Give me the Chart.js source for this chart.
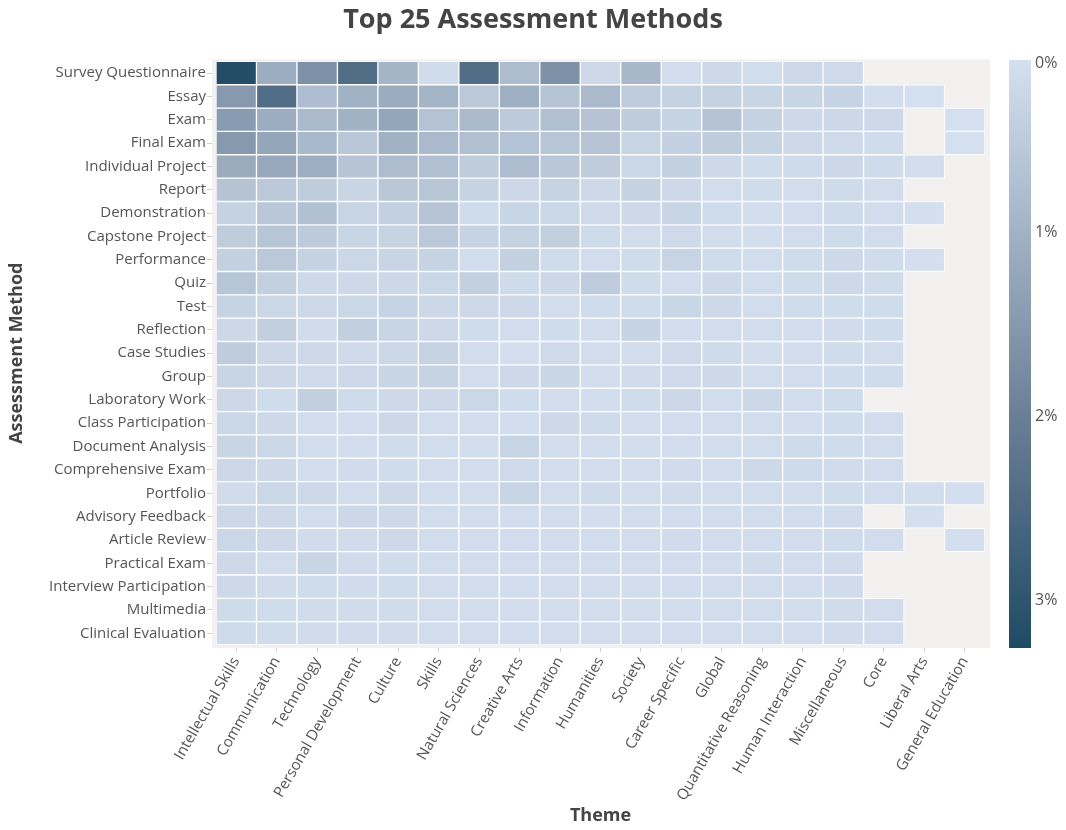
<!DOCTYPE html>
<html>
<head>
<meta charset="utf-8">
<title>Top 25 Assessment Methods</title>
<script src="https://cdn.jsdelivr.net/npm/chart.js@4"></script>
<style>
  html, body { margin: 0; padding: 0; background: #fff; }
</style>
</head>
<body>
<canvas id="chart" width="1066" height="830"></canvas>
<script>
// themes along the x axis
const themes = [
  "Intellectual Skills", "Communication", "Technology", "Personal Development",
  "Culture", "Skills", "Natural Sciences", "Creative Arts", "Information",
  "Humanities", "Society", "Career Specific", "Global", "Quantitative Reasoning",
  "Human Interaction", "Miscellaneous", "Core", "Liberal Arts", "General Education"
];

// assessment methods, top to bottom
const methods = [
  "Survey Questionnaire", "Essay", "Exam", "Final Exam", "Individual Project",
  "Report", "Demonstration", "Capstone Project", "Performance", "Quiz", "Test",
  "Reflection", "Case Studies", "Group", "Laboratory Work", "Class Participation",
  "Document Analysis", "Comprehensive Exam", "Portfolio", "Advisory Feedback",
  "Article Review", "Practical Exam", "Interview Participation", "Multimedia",
  "Clinical Evaluation"
];

// share of all assessments (%), one row per method, null = no data
const shares = [
  [3.2, 1.1, 1.65, 2.4, 0.95, 0.15, 2.4, 0.8, 1.65, 0.2, 0.9, 0.12, 0.2, 0.13, 0.2, 0.18, null, null, null],
  [1.5, 2.4, 0.8, 1.0, 1.15, 0.95, 0.55, 1.05, 0.62, 0.85, 0.5, 0.35, 0.35, 0.28, 0.28, 0.32, 0.1, 0.06, null],
  [1.45, 1.1, 0.85, 1.0, 1.25, 0.68, 0.85, 0.52, 0.75, 0.65, 0.48, 0.33, 0.65, 0.35, 0.2, 0.22, 0.2, null, 0.06],
  [1.5, 1.25, 0.88, 0.58, 1.0, 0.85, 0.75, 0.68, 0.6, 0.63, 0.3, 0.38, 0.48, 0.33, 0.2, 0.18, 0.15, null, 0.06],
  [1.15, 1.2, 1.08, 0.63, 0.8, 0.75, 0.48, 0.8, 0.58, 0.48, 0.24, 0.4, 0.2, 0.15, 0.17, 0.22, 0.17, 0.1, null],
  [0.65, 0.55, 0.48, 0.28, 0.58, 0.6, 0.33, 0.22, 0.33, 0.2, 0.35, 0.2, 0.12, 0.15, 0.12, 0.17, 0.12, null, null],
  [0.35, 0.58, 0.72, 0.3, 0.38, 0.63, 0.15, 0.28, 0.24, 0.18, 0.2, 0.28, 0.15, 0.1, 0.12, 0.17, 0.12, 0.08, null],
  [0.48, 0.6, 0.52, 0.28, 0.33, 0.55, 0.32, 0.35, 0.42, 0.17, 0.12, 0.18, 0.12, 0.1, 0.12, 0.17, 0.12, null, null],
  [0.4, 0.55, 0.35, 0.24, 0.28, 0.33, 0.13, 0.4, 0.15, 0.12, 0.15, 0.3, 0.15, 0.12, 0.15, 0.2, 0.15, 0.08, null],
  [0.6, 0.4, 0.2, 0.2, 0.22, 0.24, 0.4, 0.17, 0.22, 0.47, 0.15, 0.12, 0.2, 0.12, 0.15, 0.2, 0.15, null, null],
  [0.33, 0.24, 0.2, 0.24, 0.32, 0.22, 0.2, 0.2, 0.12, 0.15, 0.15, 0.26, 0.2, 0.12, 0.15, 0.15, 0.15, null, null],
  [0.22, 0.42, 0.14, 0.42, 0.28, 0.2, 0.15, 0.12, 0.15, 0.12, 0.32, 0.12, 0.12, 0.12, 0.12, 0.14, 0.15, null, null],
  [0.47, 0.22, 0.2, 0.18, 0.24, 0.33, 0.12, 0.08, 0.18, 0.12, 0.12, 0.18, 0.17, 0.1, 0.12, 0.15, 0.12, null, null],
  [0.28, 0.22, 0.18, 0.2, 0.28, 0.33, 0.12, 0.2, 0.26, 0.1, 0.14, 0.18, 0.2, 0.12, 0.12, 0.15, 0.15, null, null],
  [0.22, 0.15, 0.42, 0.17, 0.2, 0.2, 0.24, 0.15, 0.12, 0.1, 0.15, 0.22, 0.12, 0.22, 0.12, 0.15, null, null, null],
  [0.24, 0.2, 0.12, 0.12, 0.22, 0.12, 0.12, 0.12, 0.2, 0.17, 0.12, 0.12, 0.12, 0.12, 0.12, 0.15, 0.12, null, null],
  [0.28, 0.24, 0.12, 0.12, 0.15, 0.12, 0.1, 0.3, 0.12, 0.12, 0.12, 0.12, 0.12, 0.12, 0.17, 0.15, 0.12, null, null],
  [0.22, 0.2, 0.12, 0.14, 0.15, 0.12, 0.12, 0.18, 0.12, 0.12, 0.12, 0.14, 0.12, 0.2, 0.17, 0.14, 0.12, null, null],
  [0.14, 0.24, 0.2, 0.12, 0.2, 0.12, 0.12, 0.3, 0.12, 0.17, 0.12, 0.14, 0.12, 0.12, 0.12, 0.15, 0.12, 0.1, 0.08],
  [0.22, 0.2, 0.12, 0.22, 0.2, 0.12, 0.12, 0.12, 0.12, 0.1, 0.12, 0.12, 0.12, 0.12, 0.12, 0.14, null, 0.08, null],
  [0.24, 0.2, 0.14, 0.14, 0.2, 0.12, 0.12, 0.12, 0.12, 0.12, 0.12, 0.14, 0.12, 0.12, 0.12, 0.15, 0.12, null, 0.08],
  [0.2, 0.12, 0.28, 0.14, 0.15, 0.12, 0.12, 0.12, 0.12, 0.12, 0.12, 0.12, 0.12, 0.14, 0.12, 0.14, null, null, null],
  [0.2, 0.14, 0.15, 0.14, 0.15, 0.12, 0.12, 0.12, 0.12, 0.12, 0.12, 0.12, 0.12, 0.12, 0.12, 0.14, null, null, null],
  [0.17, 0.15, 0.14, 0.14, 0.15, 0.12, 0.12, 0.12, 0.12, 0.12, 0.12, 0.12, 0.12, 0.12, 0.12, 0.14, 0.12, null, null],
  [0.17, 0.15, 0.14, 0.14, 0.14, 0.12, 0.12, 0.12, 0.12, 0.12, 0.12, 0.12, 0.12, 0.12, 0.12, 0.14, 0.12, null, null]
];

// colour bar ticks (%)
const barTicks = [0, 1, 2, 3];

const colorMin = 0.06;
const colorMax = 3.26;
const colorStops = [
  [0, [212, 224, 239]],
  [0.29, [163, 179, 198]],
  [0.6, [107, 128, 151]],
  [1, [31, 74, 100]]
];

function colorAt(t) {
  t = Math.max(0, Math.min(1, t));
  for (let k = 1; k < colorStops.length; k++) {
    const [t1, c1] = colorStops[k];
    const [t0, c0] = colorStops[k - 1];
    if (t <= t1) {
      const f = (t - t0) / (t1 - t0);
      const c = c0.map((v, i) => Math.round(v + (c1[i] - v) * f));
      return `rgb(${c[0]},${c[1]},${c[2]})`;
    }
  }
  const c = colorStops[colorStops.length - 1][1];
  return `rgb(${c[0]},${c[1]},${c[2]})`;
}

function colorFor(v) {
  return colorAt((v - colorMin) / (colorMax - colorMin));
}

const FONT = "'Open Sans', sans-serif";

// one floating-bar dataset per method row
const datasets = methods.map((m, i) => ({
  label: m,
  data: shares[i].map(v => (v == null ? null : [i - 0.5, i + 0.5])),
  backgroundColor: shares[i].map(v => (v == null ? "rgba(0,0,0,0)" : colorFor(v))),
  borderColor: "#ffffff",
  borderWidth: 1,
  borderSkipped: false,
  barPercentage: 1,
  categoryPercentage: 1,
  grouped: false
}));

// light grey plot background, a bit larger than the cell area
const plotBg = {
  id: "plotBg",
  beforeDatasetsDraw(chart) {
    const { ctx, chartArea: a } = chart;
    ctx.save();
    ctx.fillStyle = "#f2f1f0";
    ctx.fillRect(a.left - 4, a.top - 2, a.width + 9, a.height + 5);
    ctx.restore();
  }
};

// vertical colour bar on the right
const colorBar = {
  id: "colorBar",
  afterDraw(chart) {
    const ctx = chart.ctx;
    const x = 1009, w = 22, top = 60, bottom = 648;
    const g = ctx.createLinearGradient(0, top, 0, bottom);
    for (let k = 0; k <= 20; k++) g.addColorStop(k / 20, colorAt(k / 20));
    ctx.save();
    ctx.fillStyle = g;
    ctx.fillRect(x, top, w, bottom - top);
    ctx.fillStyle = "#555";
    ctx.font = `16px ${FONT}`;
    ctx.textAlign = "left";
    ctx.textBaseline = "middle";
    barTicks.forEach(v => {
      let y = top + (v - colorMin) / (colorMax - colorMin) * (bottom - top);
      y = Math.max(y, top + 3);
      ctx.fillText(v + "%", x + w + 4, y);
    });
    ctx.restore();
  }
};

new Chart(document.getElementById("chart"), {
  type: "bar",
  data: { labels: themes, datasets },
  plugins: [plotBg, colorBar],
  options: {
    responsive: false,
    animation: false,
    layout: { padding: 0 },
    plugins: {
      legend: { display: false },
      tooltip: { enabled: false },
      title: {
        display: true,
        text: "Top 25 Assessment Methods",
        color: "#444",
        font: { family: FONT, size: 27, weight: "bold" },
        padding: { top: 4, bottom: 25 }
      }
    },
    scales: {
      x: {
        type: "category",
        grid: { offset: false, drawOnChartArea: false, drawTicks: true, tickLength: 7, color: "#d0d0d0" },
        border: { display: false },
        ticks: {
          color: "#555",
          font: { family: FONT, size: 15 },
          minRotation: 60,
          maxRotation: 60,
          padding: 2,
          autoSkip: false
        },
        title: {
          display: true,
          text: "Theme",
          color: "#444",
          font: { family: FONT, size: 18, weight: "bold" },
          padding: { top: 4, bottom: 3 }
        },
        afterFit(s) { s.height = 185; }
      },
      y: {
        type: "linear",
        reverse: true,
        min: -0.5,
        max: methods.length - 0.5,
        grid: { drawOnChartArea: false, drawTicks: true, tickLength: 9, color: "#d0d0d0" },
        border: { display: false },
        afterBuildTicks(s) { s.ticks = methods.map((_, i) => ({ value: i })); },
        ticks: {
          color: "#555",
          font: { family: FONT, size: 15 },
          padding: 1,
          autoSkip: false,
          callback: v => methods[v]
        },
        title: {
          display: true,
          text: "Assessment Method",
          color: "#444",
          font: { family: FONT, size: 18, weight: "bold" },
          padding: { top: 6, bottom: 4 }
        },
        afterFit(s) { s.width = 216; }
      },
      // empty right-hand axis that only reserves room for the colour bar
      bar: {
        type: "linear",
        position: "right",
        display: true,
        grid: { display: false },
        border: { display: false },
        ticks: { display: false },
        afterFit(s) { s.width = 81; }
      }
    }
  }
});
</script>
</body>
</html>
